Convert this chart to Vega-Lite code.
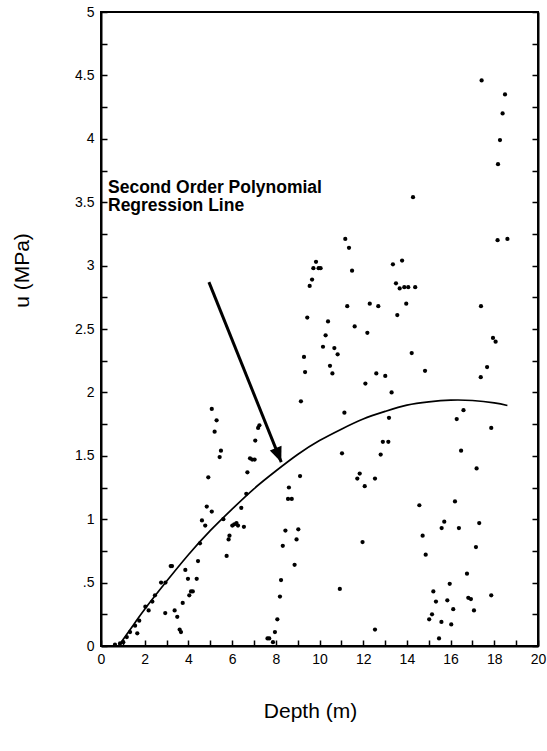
{
  "$schema": "https://vega.github.io/schema/vega-lite/v6.json",
  "width": 437,
  "height": 634,
  "autosize": "none",
  "padding": {"left": 101, "top": 12, "right": 9, "bottom": 105},
  "background": "white",
  "config": {
    "view": {"stroke": "black", "strokeWidth": 2},
    "font": "Liberation Sans",
    "axis": {
      "grid": false,
      "domainColor": "black",
      "domainWidth": 2,
      "tickColor": "black",
      "tickWidth": 1.5,
      "tickSize": -6,
      "labelColor": "black",
      "labelFont": "Liberation Sans",
      "labelFontSize": 14,
      "titleFont": "Liberation Sans",
      "titleFontSize": 21,
      "titleFontWeight": "normal",
      "titleColor": "black"
    }
  },
  "datasets": {
    "points": [
      {"depth": 0.64, "u": 0.01}, {"depth": 0.87, "u": 0.02}, {"depth": 1.02, "u": 0.03},
      {"depth": 1.18, "u": 0.07}, {"depth": 1.33, "u": 0.11}, {"depth": 1.56, "u": 0.16},
      {"depth": 1.66, "u": 0.10}, {"depth": 1.75, "u": 0.20}, {"depth": 2.03, "u": 0.31},
      {"depth": 2.18, "u": 0.28}, {"depth": 2.35, "u": 0.35}, {"depth": 2.47, "u": 0.40},
      {"depth": 2.75, "u": 0.50}, {"depth": 2.95, "u": 0.50}, {"depth": 2.94, "u": 0.26},
      {"depth": 3.19, "u": 0.63}, {"depth": 3.25, "u": 0.63}, {"depth": 3.37, "u": 0.28},
      {"depth": 3.49, "u": 0.23}, {"depth": 3.6, "u": 0.13}, {"depth": 3.66, "u": 0.11},
      {"depth": 3.74, "u": 0.34}, {"depth": 3.86, "u": 0.60}, {"depth": 3.98, "u": 0.53},
      {"depth": 4.04, "u": 0.40}, {"depth": 4.12, "u": 0.43}, {"depth": 4.2, "u": 0.43},
      {"depth": 4.38, "u": 0.53}, {"depth": 4.44, "u": 0.67}, {"depth": 4.53, "u": 0.81},
      {"depth": 4.62, "u": 0.99}, {"depth": 4.77, "u": 0.95}, {"depth": 4.84, "u": 1.10},
      {"depth": 4.91, "u": 1.33}, {"depth": 5.07, "u": 1.87}, {"depth": 5.07, "u": 1.06},
      {"depth": 5.2, "u": 1.69}, {"depth": 5.29, "u": 1.78}, {"depth": 5.43, "u": 1.49},
      {"depth": 5.49, "u": 1.54}, {"depth": 5.6, "u": 1.00}, {"depth": 5.75, "u": 0.71},
      {"depth": 5.84, "u": 0.84}, {"depth": 5.88, "u": 0.87}, {"depth": 6.01, "u": 0.95},
      {"depth": 6.1, "u": 0.96}, {"depth": 6.2, "u": 0.97}, {"depth": 6.27, "u": 0.95},
      {"depth": 6.42, "u": 1.09}, {"depth": 6.54, "u": 0.94}, {"depth": 6.65, "u": 1.20},
      {"depth": 6.7, "u": 1.37}, {"depth": 6.82, "u": 1.48}, {"depth": 6.92, "u": 1.47},
      {"depth": 7.03, "u": 1.47}, {"depth": 7.06, "u": 1.62}, {"depth": 7.19, "u": 1.72},
      {"depth": 7.25, "u": 1.74},
      {"depth": 7.62, "u": 0.06}, {"depth": 7.7, "u": 0.06}, {"depth": 7.87, "u": 0.03},
      {"depth": 7.96, "u": 0.11}, {"depth": 8.07, "u": 0.21}, {"depth": 8.19, "u": 0.39},
      {"depth": 8.24, "u": 0.52}, {"depth": 8.32, "u": 0.79}, {"depth": 8.44, "u": 0.91},
      {"depth": 8.6, "u": 1.25}, {"depth": 8.56, "u": 1.16}, {"depth": 8.73, "u": 1.16},
      {"depth": 8.86, "u": 0.64}, {"depth": 8.95, "u": 0.84}, {"depth": 9.03, "u": 0.92},
      {"depth": 9.11, "u": 1.34}, {"depth": 9.15, "u": 1.93}, {"depth": 10.93, "u": 0.45},
      {"depth": 9.29, "u": 2.28}, {"depth": 9.34, "u": 2.16}, {"depth": 9.44, "u": 2.59},
      {"depth": 9.55, "u": 2.84}, {"depth": 9.66, "u": 2.89}, {"depth": 9.72, "u": 2.98},
      {"depth": 9.84, "u": 3.03}, {"depth": 9.96, "u": 2.98}, {"depth": 10.05, "u": 2.98},
      {"depth": 10.16, "u": 2.36}, {"depth": 10.28, "u": 2.45}, {"depth": 10.39, "u": 2.56},
      {"depth": 10.48, "u": 2.21}, {"depth": 10.59, "u": 2.15}, {"depth": 10.68, "u": 2.35},
      {"depth": 10.83, "u": 2.30}, {"depth": 11.14, "u": 1.84}, {"depth": 11.18, "u": 3.21},
      {"depth": 11.27, "u": 2.68}, {"depth": 11.35, "u": 3.14}, {"depth": 11.49, "u": 2.96},
      {"depth": 11.61, "u": 2.52}, {"depth": 11.03, "u": 1.52}, {"depth": 11.73, "u": 1.32},
      {"depth": 11.84, "u": 1.36}, {"depth": 11.97, "u": 0.82}, {"depth": 12.07, "u": 1.26},
      {"depth": 12.1, "u": 2.07}, {"depth": 12.19, "u": 2.47}, {"depth": 12.3, "u": 2.70},
      {"depth": 12.54, "u": 1.32}, {"depth": 12.54, "u": 0.13}, {"depth": 12.6, "u": 2.15},
      {"depth": 12.69, "u": 2.68}, {"depth": 12.8, "u": 1.51}, {"depth": 12.9, "u": 1.61},
      {"depth": 13.01, "u": 2.13}, {"depth": 13.15, "u": 1.61}, {"depth": 13.18, "u": 1.80},
      {"depth": 13.3, "u": 2.00}, {"depth": 13.36, "u": 3.01}, {"depth": 13.5, "u": 2.86},
      {"depth": 13.56, "u": 2.61}, {"depth": 13.67, "u": 2.82}, {"depth": 13.78, "u": 3.04},
      {"depth": 13.88, "u": 2.83}, {"depth": 13.97, "u": 2.70}, {"depth": 14.06, "u": 2.83},
      {"depth": 14.22, "u": 2.31}, {"depth": 14.28, "u": 3.54}, {"depth": 14.38, "u": 2.83},
      {"depth": 14.57, "u": 1.11}, {"depth": 14.72, "u": 0.87}, {"depth": 14.83, "u": 2.17},
      {"depth": 14.86, "u": 0.72}, {"depth": 15.02, "u": 0.21}, {"depth": 15.15, "u": 0.25},
      {"depth": 15.21, "u": 0.43}, {"depth": 15.33, "u": 0.35}, {"depth": 15.47, "u": 0.06},
      {"depth": 15.58, "u": 0.19}, {"depth": 15.59, "u": 0.93}, {"depth": 15.71, "u": 0.98},
      {"depth": 15.85, "u": 0.36}, {"depth": 15.96, "u": 0.49}, {"depth": 16.03, "u": 0.17},
      {"depth": 16.12, "u": 0.29}, {"depth": 16.2, "u": 1.14}, {"depth": 16.28, "u": 1.79},
      {"depth": 16.38, "u": 0.93}, {"depth": 16.48, "u": 1.54}, {"depth": 16.59, "u": 1.86},
      {"depth": 16.75, "u": 0.57}, {"depth": 16.81, "u": 0.38}, {"depth": 16.93, "u": 0.37},
      {"depth": 17.07, "u": 0.28}, {"depth": 17.16, "u": 0.78}, {"depth": 17.19, "u": 1.40},
      {"depth": 17.31, "u": 0.97}, {"depth": 17.38, "u": 2.12}, {"depth": 17.39, "u": 2.68},
      {"depth": 17.42, "u": 4.46}, {"depth": 17.67, "u": 2.20}, {"depth": 17.86, "u": 1.72},
      {"depth": 17.86, "u": 0.40}, {"depth": 17.94, "u": 2.43}, {"depth": 18.06, "u": 2.40},
      {"depth": 18.15, "u": 3.20}, {"depth": 18.17, "u": 3.80}, {"depth": 18.26, "u": 3.99},
      {"depth": 18.38, "u": 4.20}, {"depth": 18.49, "u": 4.35}, {"depth": 18.6, "u": 3.21}
    ],
    "fit": [
      {"depth": 0.8, "u": 0.0}, {"depth": 1.5, "u": 0.17}, {"depth": 2, "u": 0.29},
      {"depth": 3, "u": 0.51}, {"depth": 4, "u": 0.72}, {"depth": 5, "u": 0.91},
      {"depth": 6, "u": 1.08}, {"depth": 7, "u": 1.24}, {"depth": 8, "u": 1.38},
      {"depth": 9, "u": 1.51}, {"depth": 10, "u": 1.62}, {"depth": 11, "u": 1.71},
      {"depth": 12, "u": 1.79}, {"depth": 13, "u": 1.85}, {"depth": 14, "u": 1.90},
      {"depth": 15, "u": 1.926}, {"depth": 16, "u": 1.939}, {"depth": 17, "u": 1.936},
      {"depth": 18, "u": 1.917}, {"depth": 18.6, "u": 1.897}
    ],
    "arrow": [
      {"depth": 4.94, "u": 2.87, "depth2": 8.25, "u2": 1.45}
    ],
    "note": [
      {"depth": 0.32, "u": 3.57, "label": ["Second Order Polynomial", "Regression Line"]}
    ]
  },
  "layer": [
    {
      "data": {"name": "points"},
      "mark": {"type": "point", "shape": "circle", "filled": true, "size": 18, "color": "black", "opacity": 1},
      "encoding": {
        "x": {
          "field": "depth", "type": "quantitative",
          "scale": {"domain": [0, 20], "nice": false, "zero": false},
          "axis": {
            "values": [0,1,2,3,4,5,6,7,8,9,10,11,12,13,14,15,16,17,18,19,20],
            "labelExpr": "datum.value % 2 == 0 ? format(datum.value, '~g') : ''",
            "labelPadding": 12,
            "labelFlush": false,
            "title": "Depth (m)",
            "titleX": 209,
            "titleY": 65,
            "titleBaseline": "middle",
            "titleAnchor": "middle"
          }
        },
        "y": {
          "field": "u", "type": "quantitative",
          "scale": {"domain": [0, 5], "nice": false, "zero": false},
          "axis": {
            "orient": "left",
            "values": [0,0.25,0.5,0.75,1,1.25,1.5,1.75,2,2.25,2.5,2.75,3,3.25,3.5,3.75,4,4.25,4.5,4.75,5],
            "labelExpr": "datum.value == 0.5 ? '.5' : ((datum.value * 2) % 1 == 0 ? format(datum.value, '~g') : '')",
            "labelPadding": 13,
            "labelFlush": false,
            "title": "u (MPa)",
            "titleAngle": -90,
            "titleX": -79,
            "titleY": 258,
            "titleAlign": "center",
            "titleBaseline": "middle"
          }
        }
      }
    },
    {
      "data": {"name": "fit"},
      "mark": {"type": "line", "color": "black", "strokeWidth": 1.7, "interpolate": "natural"},
      "encoding": {
        "x": {"field": "depth", "type": "quantitative", "axis": null},
        "y": {"field": "u", "type": "quantitative", "axis": null}
      }
    },
    {
      "data": {"name": "arrow"},
      "mark": {"type": "rule", "color": "black", "strokeWidth": 3},
      "encoding": {
        "x": {"field": "depth", "type": "quantitative", "axis": null},
        "y": {"field": "u", "type": "quantitative", "axis": null},
        "x2": {"field": "depth2"},
        "y2": {"field": "u2"}
      }
    },
    {
      "data": {"name": "arrow"},
      "mark": {"type": "point", "shape": "M0,0 L-0.42,-1 L0.42,-1 Z", "filled": true, "size": 900, "color": "black", "opacity": 1, "angle": -21.9},
      "encoding": {
        "x": {"field": "depth2", "type": "quantitative", "axis": null},
        "y": {"field": "u2", "type": "quantitative", "axis": null}
      }
    },
    {
      "data": {"name": "note"},
      "mark": {"type": "text", "align": "left", "baseline": "alphabetic", "font": "Liberation Sans", "fontWeight": "bold", "fontSize": 17.5, "lineHeight": 18, "color": "black"},
      "encoding": {
        "x": {"field": "depth", "type": "quantitative", "axis": null},
        "y": {"field": "u", "type": "quantitative", "axis": null},
        "text": {"field": "label"}
      }
    },
    {
      "data": {"name": "points"},
      "mark": {"type": "point", "opacity": 0},
      "encoding": {
        "x": {"field": "depth", "type": "quantitative", "axis": null},
        "y": {
          "field": "u", "type": "quantitative",
          "axis": {
            "orient": "right",
            "values": [0,0.25,0.5,0.75,1,1.25,1.5,1.75,2,2.25,2.5,2.75,3,3.25,3.5,3.75,4,4.25,4.5,4.75,5],
            "labels": false,
            "title": null,
            "domainWidth": 2
          }
        }
      }
    }
  ],
  "resolve": {"axis": {"y": "independent", "x": "independent"}}
}
